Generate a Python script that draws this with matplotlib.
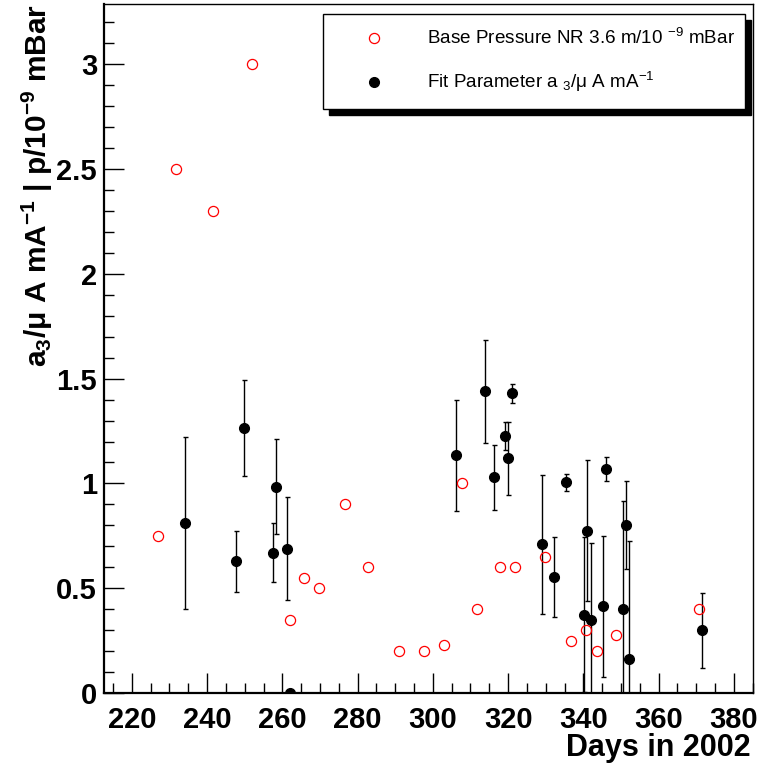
import matplotlib
matplotlib.use("Agg")
import matplotlib.pyplot as plt
from matplotlib.patches import Rectangle
from matplotlib.lines import Line2D
from matplotlib.ticker import MultipleLocator, FormatStrFormatter

plt.rcParams['font.family'] = ['Liberation Sans', 'DejaVu Sans']
plt.rcParams['mathtext.fontset'] = 'custom'
plt.rcParams['mathtext.rm'] = 'Liberation Sans'
plt.rcParams['mathtext.it'] = 'Liberation Sans'
plt.rcParams['mathtext.bf'] = 'Liberation Sans:bold'
plt.rcParams['mathtext.sf'] = 'Liberation Sans'

# ---- data ----
pressure_days = [227.0, 231.8, 241.6, 252.0, 261.9, 265.8, 269.8, 276.7, 282.8, 291.0,
                 297.7, 303.0, 307.8, 311.7, 317.8, 321.8, 329.8, 336.7, 340.7, 343.7,
                 348.7, 370.8]
pressure = [0.75, 2.5, 2.3, 3.0, 0.35, 0.55, 0.5, 0.9, 0.6, 0.2,
            0.2, 0.23, 1.0, 0.4, 0.6, 0.6, 0.65, 0.25, 0.3, 0.2,
            0.28, 0.4]

fit_days = [234.2, 247.8, 249.8, 257.4, 258.2, 261.2, 262.1, 306.2, 313.8, 316.2,
            319.1, 320.1, 321.0, 329.1, 332.3, 335.5, 340.2, 341.0, 341.9, 345.2,
            345.9, 350.4, 351.3, 352.0, 371.6]
fit_a3 = [0.81, 0.63, 1.265, 0.67, 0.985, 0.69, 0.0, 1.135, 1.44, 1.03,
          1.225, 1.12, 1.43, 0.71, 0.555, 1.005, 0.375, 0.775, 0.35, 0.415,
          1.07, 0.40, 0.80, 0.165, 0.30]
fit_err = [0.41, 0.145, 0.23, 0.14, 0.225, 0.245, 0.0, 0.265, 0.245, 0.155,
           0.067, 0.175, 0.046, 0.33, 0.19, 0.04, 0.37, 0.335, 0.365, 0.337,
           0.056, 0.515, 0.21, 0.56, 0.178]

label_pressure = r"Base Pressure NR 3.6 m/10 $^{-9}$ mBar"
label_fit = r"Fit Parameter a $_{3}$/$\mu$ A mA$^{-1}$"
xlabel = "Days in 2002"
ylabel = r"$\mathbf{a_{3}/\mu\ A\ mA^{-1}\ |\ p/10^{-9}\ mBar}$"

W, H = 760, 769
fig = plt.figure(figsize=(W / 100, H / 100), dpi=100)
ax = fig.add_axes([104 / W, 1 - 693.3 / H, (752.7 - 104) / W, (693.3 - 4) / H])

ax.errorbar(fit_days, fit_a3, yerr=fit_err, fmt='o', color='black', ms=7,
            elinewidth=1.0, capsize=1.8, capthick=1.0, zorder=3, clip_on=True)
ax.plot(pressure_days, pressure, 'o', mfc='none', mec='red', ms=7.3, mew=0.9, zorder=4)

ax.set_xlim(212.6, 385.0)
ax.set_ylim(0, 3.285)

ax.xaxis.set_major_locator(MultipleLocator(20))
ax.xaxis.set_minor_locator(MultipleLocator(5))
ax.yaxis.set_major_locator(MultipleLocator(0.5))
ax.yaxis.set_minor_locator(MultipleLocator(0.1))
ax.yaxis.set_major_formatter(FormatStrFormatter('%g'))
ax.tick_params(which='both', direction='in', top=False, right=False, width=1.0)
ax.tick_params(which='major', length=14.4)
ax.tick_params(which='minor', length=7.2)
ax.tick_params(axis='x', which='major', pad=9, labelsize=21)
ax.tick_params(axis='y', which='major', pad=5, labelsize=21)
for lab in ax.get_xticklabels() + ax.get_yticklabels():
    lab.set_fontweight('bold')
for sp in ax.spines.values():
    sp.set_linewidth(1.0)
ax.spines['bottom'].set_linewidth(1.6)
ax.spines['left'].set_linewidth(1.6)

fig.text(751 / W, 1 - 748 / H, xlabel, ha='right', va='center', fontsize=22,
         fontweight='bold')
fig.text(37 / W, 1 - 4 / H, ylabel, ha='center', va='top', rotation=90, fontsize=21.5)

# legend box with shadow
bx0, by0, bx1, by1 = 323, 14, 745, 109
sh = 6
fig.add_artist(Rectangle(((bx0 + sh) / W, 1 - (by1 + sh) / H), (bx1 - bx0) / W,
                         (by1 - by0) / H, transform=fig.transFigure,
                         facecolor='black', edgecolor='black', zorder=5))
fig.add_artist(Rectangle((bx0 / W, 1 - by1 / H), (bx1 - bx0) / W, (by1 - by0) / H,
                         transform=fig.transFigure, facecolor='white',
                         edgecolor='black', lw=1.0, zorder=6))
fig.add_artist(Line2D([374 / W], [1 - 37.5 / H], transform=fig.transFigure, marker='o',
                      ls='none', mfc='none', mec='red', ms=7.3, mew=0.9, zorder=7))
fig.add_artist(Line2D([374 / W], [1 - 81.7 / H], transform=fig.transFigure, marker='o',
                      ls='none', color='black', ms=7, zorder=7))
fig.text(427 / W, 1 - 37.5 / H, label_pressure, ha='left', va='center', fontsize=13.6,
         zorder=8)
fig.text(427 / W, 1 - 81.7 / H, label_fit, ha='left', va='center', fontsize=13.6,
         zorder=8)

fig.savefig("out.png", dpi=100)
